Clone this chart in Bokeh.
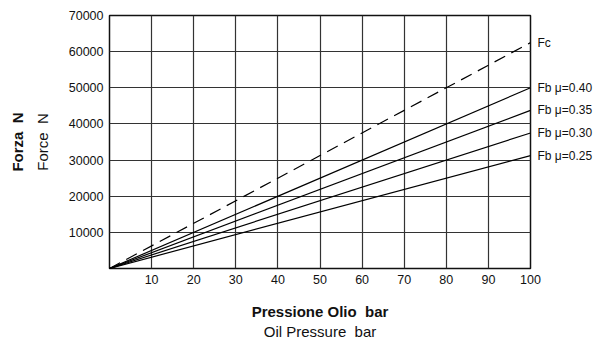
from bokeh.plotting import figure
from bokeh.models import Range1d, FixedTicker, LinearAxis
from bokeh.embed import file_html
from bokeh.resources import INLINE

# Oil pressure (bar) at the two ends of each straight characteristic
pressure = [0, 100]

# Forces (N) at 0 and 100 bar
fc = [0, 62500]
fb_040 = [0, 50000]
fb_035 = [0, 43750]
fb_030 = [0, 37500]
fb_025 = [0, 31250]

series_names = ["Fc", "Fb \u03bc=0.40", "Fb \u03bc=0.35", "Fb \u03bc=0.30", "Fb \u03bc=0.25"]
series_values = [fc, fb_040, fb_035, fb_030, fb_025]

x_ticks = [10, 20, 30, 40, 50, 60, 70, 80, 90, 100]
y_ticks = [10000, 20000, 30000, 40000, 50000, 60000, 70000]

FONT = "Liberation Sans"
INK = "#111111"
GAP = "\u00a0\u00a0"  # wide gap before the unit

p = figure(
    width=595, height=343,
    x_range=Range1d(0, 100), y_range=Range1d(0, 70000),
    output_backend="svg", toolbar_location=None,
    min_border_left=109, min_border_right=63,
    min_border_top=15, min_border_bottom=75,
)
p.background_fill_color = "white"
p.border_fill_color = "white"
p.outline_line_color = INK
p.outline_line_width = 1.5


def plain_axis(ax, ticks):
    ax.ticker = FixedTicker(ticks=ticks)
    ax.axis_line_color = None
    ax.major_tick_line_color = None
    ax.minor_tick_line_color = None
    ax.major_tick_out = 0
    ax.major_tick_in = 0
    ax.minor_tick_out = 0
    ax.minor_tick_in = 0
    ax.major_label_text_font = FONT
    ax.major_label_text_font_size = "12.5px"
    ax.major_label_text_color = INK
    ax.axis_label_text_font = FONT
    ax.axis_label_text_font_size = "15px"
    ax.axis_label_text_color = INK
    ax.axis_label_text_font_style = "normal"


plain_axis(p.xaxis[0], x_ticks)
plain_axis(p.yaxis[0], y_ticks)
p.xaxis.major_label_standoff = 6
p.yaxis.major_label_standoff = 6
p.yaxis.formatter.use_scientific = False

# two-language axis titles: bold Italian, regular English
p.xaxis.axis_label = "Pressione Olio" + GAP + "bar"
p.xaxis.axis_label_text_font_style = "bold"
p.xaxis.axis_label_standoff = 16
p.yaxis.axis_label = "Force" + GAP + "N"
p.yaxis.axis_label_standoff = 15

x_en = LinearAxis(axis_label="Oil Pressure" + GAP + "bar")
plain_axis(x_en, [])
x_en.major_label_text_font_size = "0px"
x_en.major_label_standoff = 0
x_en.axis_label_standoff = 0
p.add_layout(x_en, "below")

y_it = LinearAxis(axis_label="Forza" + GAP + "N")
plain_axis(y_it, [])
y_it.major_label_text_font_size = "0px"
y_it.major_label_standoff = 0
y_it.axis_label_standoff = 5
y_it.axis_label_text_font_style = "bold"
p.add_layout(y_it, "left")

for g in (p.xgrid[0], p.ygrid[0]):
    g.grid_line_color = "#333333"
    g.grid_line_width = 1.2
p.xgrid.ticker = FixedTicker(ticks=x_ticks)
p.ygrid.ticker = FixedTicker(ticks=y_ticks)

# characteristic lines
for name, vals in zip(series_names, series_values):
    dash = "12 7" if name == "Fc" else "solid"
    p.line(pressure, vals, line_color="black", line_width=1.2, line_dash=dash)

# series names at the right-hand end of each line
end_values = [vals[-1] for vals in series_values]
names_axis = LinearAxis(
    ticker=FixedTicker(ticks=end_values),
    major_label_overrides={v: n for v, n in zip(end_values, series_names)},
)
plain_axis(names_axis, end_values)
names_axis.major_label_text_font_size = "12px"
names_axis.major_label_standoff = 7
p.add_layout(names_axis, "right")

open("out.html", "w").write(file_html(p, INLINE))
